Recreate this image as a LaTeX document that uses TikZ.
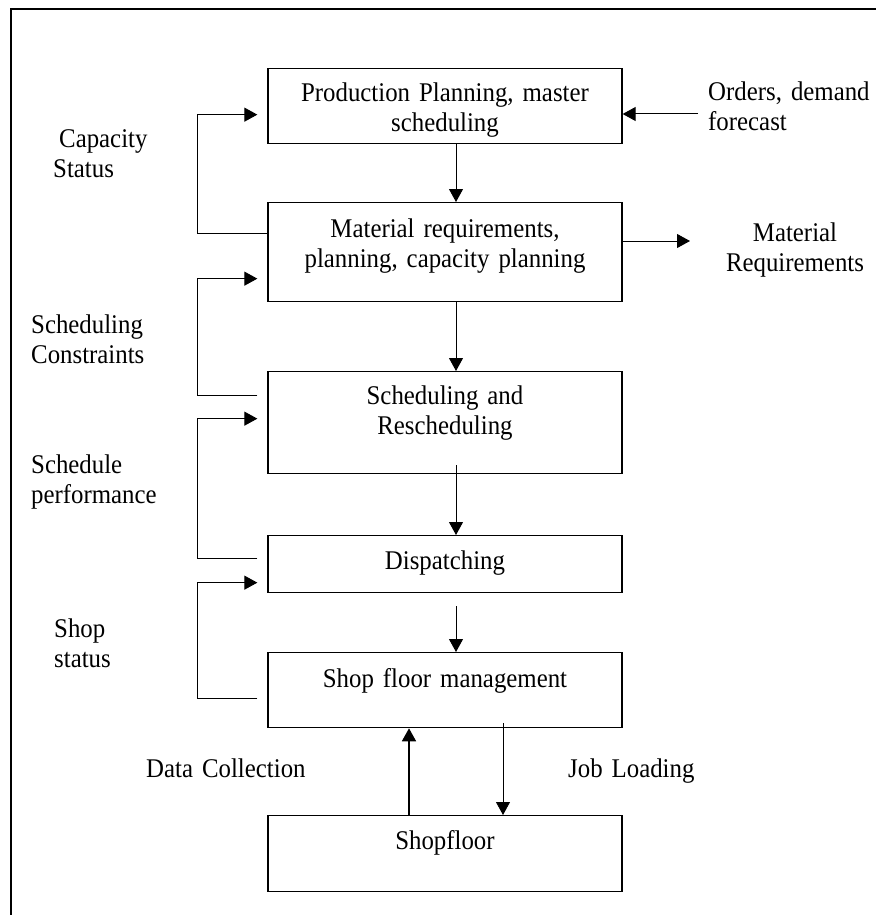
\documentclass[tikz,border=0pt]{standalone}
\usepackage{fontspec}
\setmainfont{Liberation Serif}[FakeStretch=0.92]
\usetikzlibrary{arrows.meta}
\tikzset{
  box/.style={draw,line width=1.3pt,inner sep=0pt,text width=354pt,align=center,
    font=\fontsize{27}{30}\selectfont,anchor=north},
  arr/.style={-{Triangle[length=13pt,width=14pt]},line width=1pt},
  note/.style={inner sep=0pt,text width=180pt,align=left,anchor=base west,
    font=\fontsize{27}{30}\selectfont}
}
\begin{document}
\begin{tikzpicture}[x=1pt,y=-1pt]
  \useasboundingbox (0,0) rectangle (875,915);
  \draw[line width=1.3pt] (11,930) |- (890,9);

  \node[box,text height=33pt,text depth=42pt] (planning) at (445,68)
    {Production Planning, master\\scheduling};
  \node[box,text height=35pt,text depth=64pt] (mrp) at (445,202)
    {Material requirements,\\planning, capacity planning};
  \node[box,text height=33pt,text depth=69pt] (sched) at (445,371)
    {Scheduling and\\Rescheduling};
  \node[box,text height=34pt,text depth=23pt] (dispatch) at (445,535)
    {Dispatching};
  \node[box,text height=35pt,text depth=40pt] (floormgmt) at (445,652)
    {Shop floor management};
  \node[box,text height=34pt,text depth=42pt] (shopfloor) at (445,815)
    {Shopfloor};

  \node[note] (capacity) at (53,147) {\hspace*{6pt}Capacity\\Status};
  \node[note] (constraints) at (31,333) {Scheduling\\Constraints};
  \node[note] (performance) at (31,473) {Schedule\\performance};
  \node[note] (shopstatus) at (54,637) {Shop\\status};
  \node[note] (orders) at (708,101) {Orders, demand\\forecast};
  \node[note,align=center,text width=200pt,anchor=base] (matreq) at (795,241)
    {Material\\Requirements};
  \node[note] (datacoll) at (146,777) {Data Collection};
  \node[note] (jobload) at (568,777) {Job Loading};

  \coordinate (ordersin) at (698,114);
  \coordinate (matout) at (690,241);
  \draw[arr] (ordersin) -- (ordersin -| planning.east);
  \draw[arr] (mrp.east |- matout) -- (matout);

  \draw[arr] ([xshift=11pt]planning.south) -- ([xshift=11pt]mrp.north);
  \draw[arr] ([xshift=11pt]mrp.south) -- ([xshift=11pt]sched.north);
  \draw[arr] ([xshift=11pt,yshift=9pt]sched.south) -- ([xshift=11pt]dispatch.north);
  \draw[arr,shorten <=13pt] ([xshift=11pt]dispatch.south) -- ([xshift=11pt]floormgmt.north);
  \draw[arr,line width=1.6pt] ([xshift=-36pt]shopfloor.north) -- ([xshift=-36pt]floormgmt.south);
  \draw[arr,line width=0.8pt] ([xshift=58pt,yshift=5pt]floormgmt.south) -- ([xshift=58pt]shopfloor.north);

  \draw[arr,shorten >=10pt] ([yshift=18.5pt]mrp.west) -- ++(-70,0)
    |- ([yshift=-8.5pt]planning.west);
  \draw[arr,shorten <=10pt,shorten >=10pt] ([yshift=27pt]sched.west) -- ++(-70,0)
    |- ([yshift=-26.5pt]mrp.west);
  \draw[arr,shorten <=10pt,shorten >=10pt] ([yshift=5.5pt]dispatch.west) -- ++(-70,0)
    |- ([yshift=4pt]sched.west);
  \draw[arr,shorten <=10pt,shorten >=10pt] ([yshift=-8.5pt]floormgmt.west) -- ++(-70,0)
    |- ([yshift=-18.5pt]dispatch.west);
\end{tikzpicture}
\end{document}
